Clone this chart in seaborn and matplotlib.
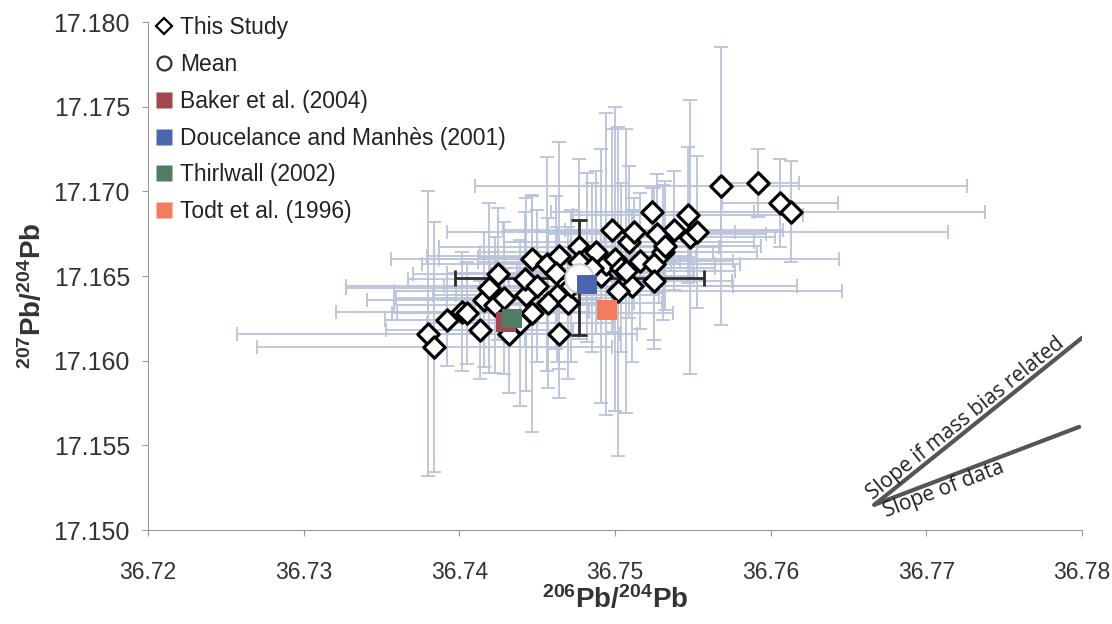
import numpy as np
import matplotlib
matplotlib.use("Agg")
import matplotlib.pyplot as plt
from matplotlib.lines import Line2D
import seaborn as sns

# 206Pb/204Pb and 207Pb/204Pb of individual analyses, with 2SD errors
pb206 = [36.7380, 36.7384, 36.7392, 36.7402, 36.7405, 36.7413, 36.7416, 36.7419,
         36.7425, 36.7423, 36.7429, 36.7432, 36.7443, 36.7447, 36.7439, 36.7447,
         36.7456, 36.7464, 36.7462, 36.7442, 36.7463, 36.7457, 36.7470, 36.7464,
         36.7477, 36.7482, 36.7488, 36.7477, 36.7472, 36.7491, 36.7494, 36.7500,
         36.7498, 36.7504, 36.7509, 36.7512, 36.7516, 36.7525, 36.7525, 36.7511,
         36.7502, 36.7524, 36.7527, 36.7531, 36.7532, 36.7538, 36.7547, 36.7548,
         36.7553, 36.7568, 36.7592, 36.7606, 36.7613, 36.7507, 36.7450, 36.7485]
pb207 = [17.1616, 17.1608, 17.1624, 17.1629, 17.1628, 17.1618, 17.1636, 17.1643,
         17.1651, 17.1633, 17.1637, 17.1616, 17.1639, 17.1628, 17.1622, 17.1660,
         17.1657, 17.1662, 17.1652, 17.1648, 17.1639, 17.1634, 17.1634, 17.1616,
         17.1667, 17.1661, 17.1664, 17.1658, 17.1644, 17.1650, 17.1657, 17.1660,
         17.1677, 17.1655, 17.1670, 17.1676, 17.1659, 17.1657, 17.1647, 17.1644,
         17.1641, 17.1688, 17.1675, 17.1664, 17.1668, 17.1677, 17.1686, 17.1673,
         17.1676, 17.1703, 17.1705, 17.1693, 17.1688, 17.1653, 17.1644, 17.1655]
pb206_err = [0.0123, 0.0114, 0.0040, 0.0081, 0.0045, 0.0060, 0.0075, 0.0092,
             0.0055, 0.0065, 0.0070, 0.0050, 0.0060, 0.0090, 0.0060, 0.0060,
             0.0080, 0.0085, 0.0070, 0.0075, 0.0065, 0.0055, 0.0060, 0.0050,
             0.0090, 0.0070, 0.0075, 0.0065, 0.0145, 0.0060, 0.0070, 0.0144,
             0.0070, 0.0060, 0.0080, 0.0065, 0.0060, 0.0055, 0.0050, 0.0065,
             0.0144, 0.0065, 0.0070, 0.0060, 0.0062, 0.0070, 0.0074, 0.0055,
             0.0161, 0.0158, 0.0026, 0.0037, 0.0125, 0.0070, 0.0060, 0.0065]
pb207_err = [0.0084, 0.0074, 0.0027, 0.0035, 0.0030, 0.0029, 0.0040, 0.0050,
             0.0039, 0.0040, 0.0045, 0.0035, 0.0057, 0.0070, 0.0049, 0.0037,
             0.0063, 0.0067, 0.0045, 0.0040, 0.0040, 0.0050, 0.0045, 0.0038,
             0.0052, 0.0050, 0.0048, 0.0045, 0.0045, 0.0075, 0.0089, 0.0090,
             0.0060, 0.0050, 0.0045, 0.0020, 0.0040, 0.0045, 0.0040, 0.0045,
             0.0097, 0.0014, 0.0035, 0.0040, 0.0038, 0.0035, 0.0040, 0.0081,
             0.0045, 0.0082, 0.0020, 0.0026, 0.0030, 0.0084, 0.0045, 0.0050]

# Mean of all analyses
mean_206, mean_207 = 36.7477, 17.1649
mean_206_err, mean_207_err = 0.0080, 0.0034

# Published values
ref_labels = ["Baker et al. (2004)", "Doucelance and Manhès (2001)",
              "Thirlwall (2002)", "Todt et al. (1996)"]
ref_206 = [36.7430, 36.7482, 36.7434, 36.7495]
ref_207 = [17.1623, 17.1645, 17.1625, 17.1630]
ref_colors = ["#a0474f", "#4a66ae", "#4f7c62", "#f47c5c"]

# Reference slopes drawn in the lower right corner
slope_origin = (36.76666, 17.15149)
slope_mass_bias_end = (36.78000, 17.16135)
slope_data_end = (36.77982, 17.15609)

sns.set_theme(style="ticks")
plt.rcParams["font.family"] = ["Liberation Sans", "DejaVu Sans"]
plt.rcParams["mathtext.fontset"] = "custom"
plt.rcParams["mathtext.rm"] = "Liberation Sans"
plt.rcParams["mathtext.bf"] = "Liberation Sans:bold"

fig = plt.figure(figsize=(11.12, 6.24), dpi=100)
ax = fig.add_axes([0.1331, 0.1506, 0.8399, 0.8141])

bar_color = "#b9c3d9"
ax.errorbar(pb206, pb207, xerr=pb206_err, yerr=pb207_err, fmt="none",
            ecolor=bar_color, elinewidth=1.3, capsize=5, capthick=1.3, zorder=1)
ax.errorbar([mean_206], [mean_207], xerr=[mean_206_err], yerr=[mean_207_err],
            fmt="none", ecolor="#2b2b2b", elinewidth=2, capsize=6, capthick=2,
            zorder=2)

sns.scatterplot(x=pb206, y=pb207, marker="D", s=118, color="white",
                edgecolor="black", linewidth=2.3, ax=ax, zorder=3, legend=False)
ax.scatter([mean_206], [mean_207], marker="o", s=420, facecolor="white",
           edgecolor="#cfcfcf", linewidth=1.5, zorder=4)
for x, y, c in zip(ref_206, ref_207, ref_colors):
    ax.scatter([x], [y], marker="s", s=200, color=c, edgecolor="none", zorder=5)

ax.set_xlim(36.72, 36.78)
ax.set_ylim(17.150, 17.180)
ax.set_xticks(np.arange(36.72, 36.7801, 0.01))
ax.set_yticks(np.arange(17.150, 17.1801, 0.005))
ax.xaxis.set_major_formatter(matplotlib.ticker.FormatStrFormatter("%.2f"))
ax.yaxis.set_major_formatter(matplotlib.ticker.FormatStrFormatter("%.3f"))
ax.tick_params(axis="both", colors="#333333", length=4, width=0.8,
               color="#999999")
ax.tick_params(axis="x", labelsize=16.5, pad=18)
ax.tick_params(axis="y", labelsize=18, pad=9)
for side in ("top", "right"):
    ax.spines[side].set_visible(False)
for side in ("left", "bottom"):
    ax.spines[side].set_color("#999999")
    ax.spines[side].set_linewidth(0.8)

ax.set_xlabel(r"$\mathbf{^{206}Pb/^{204}Pb}$", fontsize=20, color="#333333")
ax.set_ylabel(r"$\mathbf{^{207}Pb/^{204}Pb}$", fontsize=20, color="#333333")
ax.xaxis.set_label_coords(0.5, -0.108)
ax.yaxis.set_label_coords(-0.108, 0.46)

# Slope guides
line_kw = dict(color="#555555", linewidth=3, solid_capstyle="round", zorder=2)
ax.plot([slope_origin[0], slope_mass_bias_end[0]],
        [slope_origin[1], slope_mass_bias_end[1]], **line_kw)
ax.plot([slope_origin[0], slope_data_end[0]],
        [slope_origin[1], slope_data_end[1]], **line_kw)


def screen_angle(p0, p1):
    a = ax.transData.transform(p0)
    b = ax.transData.transform(p1)
    return np.degrees(np.arctan2(b[1] - a[1], b[0] - a[0]))


ang1 = screen_angle(slope_origin, slope_mass_bias_end)
ang2 = screen_angle(slope_origin, slope_data_end)
mid1 = (slope_origin[0] + 0.47 * (slope_mass_bias_end[0] - slope_origin[0]),
        slope_origin[1] + 0.47 * (slope_mass_bias_end[1] - slope_origin[1]))
mid2 = (slope_origin[0] + 0.32 * (slope_data_end[0] - slope_origin[0]),
        slope_origin[1] + 0.32 * (slope_data_end[1] - slope_origin[1]))
ax.text(*mid1, "Slope if mass bias related", rotation=ang1,
        rotation_mode="anchor", ha="center", va="bottom", fontsize=15,
        family="Open Sans", color="#222222")
ax.text(*mid2, "Slope of data", rotation=ang2, rotation_mode="anchor",
        ha="center", va="top", fontsize=15, family="Open Sans", color="#222222")

handles = [
    Line2D([], [], linestyle="none", marker="D", markersize=8,
           markerfacecolor="white", markeredgecolor="black", markeredgewidth=1.6),
    Line2D([], [], linestyle="none", marker="o", markersize=10,
           markerfacecolor="white", markeredgecolor="#333333", markeredgewidth=1.6),
] + [Line2D([], [], linestyle="none", marker="s", markersize=12,
            markerfacecolor=c, markeredgecolor="none") for c in ref_colors]
labels = ["This Study", "Mean"] + ref_labels
leg = ax.legend(handles, labels, loc="upper left", bbox_to_anchor=(0.005, 1.02),
                frameon=False, fontsize=16.5, handlelength=0.6, handletextpad=0.4,
                labelspacing=0.6, borderaxespad=0.0, borderpad=0.2)
for t in leg.get_texts():
    t.set_color("#222222")

fig.savefig("out.png", dpi=100)
